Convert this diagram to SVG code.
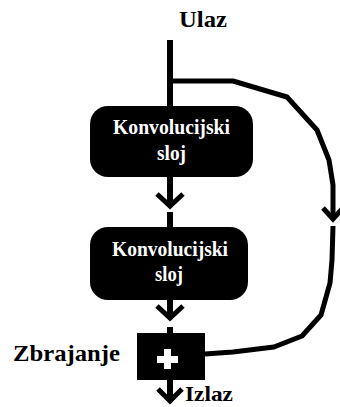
<svg xmlns="http://www.w3.org/2000/svg" width="340" height="407" viewBox="0 0 340 407">
<style>
.ln{fill:none;stroke:#000;stroke-width:6;stroke-linejoin:miter}
.sk{fill:none;stroke:#000;stroke-width:5;stroke-linejoin:round}
.ch{fill:none;stroke:#000;stroke-width:5;stroke-linecap:butt;stroke-linejoin:miter}
.box{fill:#000}
.wt{fill:#fff;font-family:'Liberation Serif','Times New Roman',serif;font-weight:bold;font-size:20px;text-anchor:middle}
.bt{fill:#000;font-family:'Liberation Serif','Times New Roman',serif;font-weight:bold;font-size:23px}
.bs{fill:#000;font-family:'Liberation Serif','Times New Roman',serif;font-weight:bold;font-size:21px}
</style>
<rect width="340" height="407" fill="#fff"/>
<g id="connectors">
<line class="ln" x1="170" y1="40" x2="170" y2="107"/>
<line class="ln" x1="170" y1="176" x2="170" y2="205"/>
<polyline class="ch" points="157,194 170,206 183,194"/>
<line class="ln" x1="170" y1="212" x2="170" y2="228"/>
<line class="ln" x1="170" y1="299" x2="170" y2="316"/>
<polyline class="ch" points="157,306 170,318 183,306"/>
<line class="ln" x1="170" y1="327" x2="170" y2="334"/>
<line class="ln" x1="170" y1="379" x2="170" y2="400"/>
<polyline class="ch" points="158,389 170,401 182,389"/>
<path class="sk" d="M170,81 L233,81 L287,97 L317,130 L329,160 L333,185 L333,218"/>
<polyline class="ch" points="323,208 333,219 343,208"/>
<path class="sk" d="M333,226 L332,260 L330,283 L321,315 L302,336 L274,347 L233,352 L205,354"/>
</g>
<g id="ulaz"><text class="bt" x="179" y="27" textLength="48" lengthAdjust="spacingAndGlyphs">Ulaz</text></g>
<g id="conv1">
<rect class="box" x="90" y="106" width="163" height="71" rx="18"/>
<text class="wt" x="171.5" y="134" textLength="117" lengthAdjust="spacingAndGlyphs">Konvolucijski</text>
<text class="wt" x="171.5" y="160" textLength="29" lengthAdjust="spacingAndGlyphs">sloj</text>
</g>
<g id="conv2">
<rect class="box" x="90" y="227" width="158" height="73" rx="18"/>
<text class="wt" x="170" y="256" textLength="116" lengthAdjust="spacingAndGlyphs">Konvolucijski</text>
<text class="wt" x="169" y="281" textLength="28" lengthAdjust="spacingAndGlyphs">sloj</text>
</g>
<g id="zbrajanje">
<rect class="box" x="137" y="333" width="68" height="47"/>
<rect x="157" y="356" width="21" height="7" fill="#fff"/>
<rect x="164" y="349" width="7" height="20" fill="#fff"/>
<text class="bt" x="13" y="361" textLength="107" lengthAdjust="spacingAndGlyphs">Zbrajanje</text>
</g>
<g id="izlaz"><text class="bs" x="185" y="401" textLength="48" lengthAdjust="spacingAndGlyphs">Izlaz</text></g>
</svg>
